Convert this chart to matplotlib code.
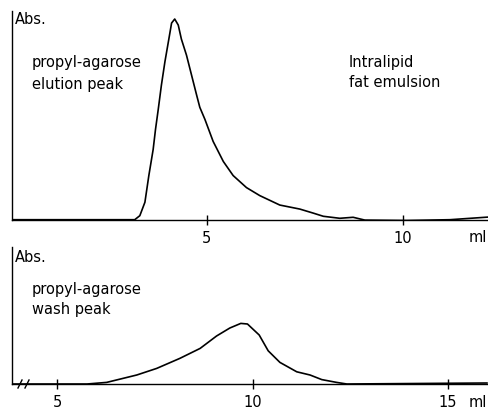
import matplotlib
matplotlib.use("Agg")
import matplotlib.pyplot as plt

# ---- data (volume in ml, absorbance in arbitrary units) ----
top_x = [0.03, 3.10, 3.16, 3.29, 3.42, 3.52, 3.63, 3.69, 3.76, 3.84, 3.93, 4.03, 4.10,
         4.18, 4.27, 4.35, 4.48, 4.61, 4.74, 4.82, 4.95, 5.16, 5.42, 5.67, 6.01,
         6.35, 6.86, 7.37, 7.71, 7.97, 8.39, 8.73, 9.03, 10.1, 11.2, 12.17]
top_y = [0.0, 0.0, 0.0, 0.02, 0.087, 0.22, 0.35, 0.45, 0.55, 0.67, 0.787, 0.90, 0.98,
         1.0, 0.97, 0.90, 0.82, 0.72, 0.62, 0.56, 0.50, 0.39, 0.29, 0.22, 0.16,
         0.12, 0.073, 0.053, 0.033, 0.017, 0.007, 0.012, -0.002, -0.004, 0.0, 0.013]

bot_x = [3.85, 5.77, 6.27, 7.04, 7.55, 8.14, 8.66, 9.08, 9.42, 9.70, 9.87, 10.17,
         10.40, 10.70, 11.13, 11.47, 11.77, 12.15, 12.41, 16.0]
bot_y = [0.0, 0.0, 0.008, 0.045, 0.078, 0.128, 0.178, 0.24, 0.28, 0.303, 0.30, 0.245,
         0.166, 0.108, 0.061, 0.045, 0.022, 0.008, 0.0, 0.005]

top_ticks = [5, 10]
bot_ticks = [5, 10, 15]

W, H = 488, 410
fig = plt.figure(figsize=(W / 100, H / 100), dpi=100)
plt.rcParams['font.family'] = ['DejaVu Sans']

def fx(px):
    return px / W

def fy(py):
    return 1 - py / H

def style(ax):
    for s in ['top', 'right']:
        ax.spines[s].set_visible(False)
    ax.spines['left'].set_linewidth(1.0)
    ax.spines['bottom'].set_linewidth(1.0)
    ax.set_yticks([])
    ax.tick_params(axis='x', direction='inout', length=7, width=1.0, pad=4,
                   labelsize=10.5)
    ax.patch.set_alpha(0)

# top panel
ax1 = fig.add_axes([fx(12), fy(220.7), 1 - fx(12), fy(12) - fy(220.7)])
ax1.plot(top_x, top_y, color='black', lw=1.2, solid_capstyle='round',
         solid_joinstyle='round')
ax1.set_xlim(0.03, 12.17)
ax1.set_ylim(0, 1.04)
ax1.set_xticks(top_ticks)
style(ax1)

# bottom panel
ax2 = fig.add_axes([fx(12), fy(385), 1 - fx(12), fy(248) - fy(385)])
ax2.plot(bot_x, bot_y, color='black', lw=1.2, solid_capstyle='round',
         solid_joinstyle='round')
ax2.set_xlim(3.85, 16.02)
ax2.set_ylim(0, 0.685)
ax2.set_xticks(bot_ticks)
style(ax2)

# axis break symbol on bottom baseline
for bx in (20, 27):
    fig.add_artist(plt.Line2D([fx(bx - 2), fx(bx + 2)], [fy(389), fy(381)],
                              color='black', lw=1.0))

fs = 10.5
fig.text(fx(15), fy(20), "Abs.", fontsize=fs, va='center', ha='left')
fig.text(fx(32), fy(63), "propyl-agarose", fontsize=fs, va='center', ha='left')
fig.text(fx(32), fy(85), "elution peak", fontsize=fs, va='center', ha='left')
fig.text(fx(349), fy(63), "Intralipid", fontsize=fs, va='center', ha='left')
fig.text(fx(349), fy(83), "fat emulsion", fontsize=fs, va='center', ha='left')
fig.text(fx(478), fy(238), "ml", fontsize=fs, va='center', ha='center')

fig.text(fx(15), fy(257), "Abs.", fontsize=fs, va='center', ha='left')
fig.text(fx(32), fy(290), "propyl-agarose", fontsize=fs, va='center', ha='left')
fig.text(fx(32), fy(310), "wash peak", fontsize=fs, va='center', ha='left')
fig.text(fx(478), fy(403), "ml", fontsize=fs, va='center', ha='center')

fig.savefig("out.png", dpi=100)
